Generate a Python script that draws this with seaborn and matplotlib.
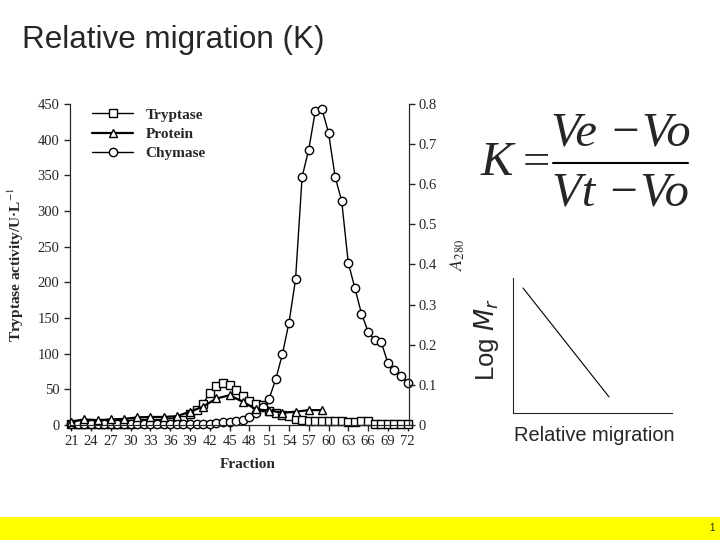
import matplotlib
matplotlib.use("Agg")
import matplotlib.pyplot as plt
import seaborn as sns
from matplotlib.patches import Rectangle
from matplotlib.lines import Line2D

# Fractions collected from the column
fractions = list(range(21, 73))
tryptase = [2, 2, 2, 2, 2, 2, 2, 2, 2, 2,
            3, 3, 3, 3, 3, 4, 5, 7, 16, 21,
            30, 45, 55, 59, 56, 49, 41, 33, 30, 28,
            20, 17, 14, 12, 9, 7, 6, 5, 5, 5,
            5, 5, 4, 4, 5, 5, 2, 2, 2, 2,
            2, 2]
chymase = [1, 1, 1, 1, 1, 1, 1, 1, 1, 1,
           1, 1, 1, 1, 1, 1, 1, 1, 1, 1,
           1.5, 2, 3, 4, 4.5, 5, 7, 11, 17, 25,
           37, 64, 99, 143, 204, 348, 386, 440, 443, 410,
           348, 314, 227, 192, 156, 131, 119, 116, 87, 77,
           69, 59]
# Protein (A280) measured on every second fraction
protein_fractions = list(range(21, 60, 2))
protein = [0.008, 0.014, 0.012, 0.014, 0.015, 0.019, 0.020, 0.020, 0.022, 0.033,
           0.046, 0.066, 0.074, 0.058, 0.039, 0.036, 0.031, 0.033, 0.037, 0.037]
tick_fractions = list(range(21, 73, 3))

# Sketch of log Mr vs relative migration
rel_migration = [0.063, 0.604]
log_mr = [0.926, 0.119]

sns.set_style("ticks")
plt.rcParams["font.family"] = ["Liberation Serif", "DejaVu Serif"]
plt.rcParams["mathtext.fontset"] = "stix"

fig = plt.figure(figsize=(7.2, 5.4), dpi=100)

# --- elution profile ---
ax = fig.add_axes([0.0972, 0.2130, 0.4708, 0.5944])
ax2 = ax.twinx()

sns.lineplot(x=fractions, y=tryptase, ax=ax, color="black", marker="s",
             markersize=6, markerfacecolor="white", markeredgecolor="black",
             markeredgewidth=1, linewidth=1, clip_on=False, legend=False)
sns.lineplot(x=fractions, y=chymase, ax=ax, color="black", marker="o",
             markersize=6, markerfacecolor="white", markeredgecolor="black",
             markeredgewidth=1, linewidth=1, clip_on=False, legend=False)
sns.lineplot(x=protein_fractions, y=protein, ax=ax2, color="black", marker="^",
             markersize=5.5, markerfacecolor="white", markeredgecolor="black",
             markeredgewidth=1, linewidth=1.6, clip_on=False, legend=False)

ax.set_xlim(20.8, 72.2)
ax.set_ylim(0, 450)
ax2.set_ylim(0, 0.8)
ax.set_xticks(tick_fractions)
ax.set_yticks(range(0, 451, 50))
ax2.set_yticks([0, 0.1, 0.2, 0.3, 0.4, 0.5, 0.6, 0.7, 0.8])
ax2.set_yticklabels(["0", "0.1", "0.2", "0.3", "0.4", "0.5", "0.6", "0.7", "0.8"])
for a in (ax, ax2):
    a.spines["top"].set_visible(False)
    a.tick_params(direction="out", length=4, width=1, labelsize=10.5)
ax2.tick_params(axis="y", pad=3)

ax.set_xlabel("Fraction", fontsize=11, fontweight="bold")
ax.xaxis.set_label_coords(0.525, -0.103)
ax.set_ylabel("Tryptase activity/U·L$^{-1}$", fontsize=11, fontweight="bold")
ax.yaxis.set_label_coords(-0.13, 0.5)
ax2.set_ylabel(r"$A_{280}$", fontsize=13, rotation=90)
ax2.yaxis.set_label_coords(1.118, 0.53)

handles = [ax.lines[0], ax2.lines[0], ax.lines[1]]
ax2.legend(handles, ["Tryptase", "Protein", "Chymase"], loc="upper left",
           bbox_to_anchor=(0.025, 1.03), frameon=False, handlelength=2.7,
           handletextpad=0.8, labelspacing=0.35,
           prop={"family": "Liberation Serif", "weight": "bold", "size": 11})

# --- slide text ---
fig.text(22 / 720, 1 - 40 / 540, "Relative migration (K)", fontsize=22.6,
         family="Liberation Sans", va="center")

# K = (Ve - Vo) / (Vt - Vo)
eq_font = dict(family="Liberation Serif", style="italic", fontsize=35,
               va="center", ha="center")
fig.text(497 / 720, 1 - 163 / 540, "K", **eq_font)
fig.text(536 / 720, 1 - 163 / 540, "=", family="Liberation Serif", fontsize=35,
         va="center", ha="center")
fig.text(621 / 720, 1 - 134 / 540, "Ve \u2212Vo", **eq_font)
fig.text(621 / 720, 1 - 194 / 540, "Vt \u2212Vo", **eq_font)
fig.add_artist(Line2D([553 / 720, 688 / 720], [1 - 163 / 540, 1 - 163 / 540],
                      transform=fig.transFigure, color="black", linewidth=1.5))

# --- log Mr sketch ---
ax3 = fig.add_axes([0.7125, 0.2352, 0.2208, 0.25])
sns.lineplot(x=rel_migration, y=log_mr, ax=ax3, color="black", linewidth=0.8)
ax3.set_xlim(0, 1)
ax3.set_ylim(0, 1)
ax3.set_xticks([])
ax3.set_yticks([])
ax3.spines["top"].set_visible(False)
ax3.spines["right"].set_visible(False)
ax3.set_xlabel("Relative migration", fontsize=14.4, family="Liberation Sans")
ax3.xaxis.set_label_coords(0.51, -0.096)
ax3.set_ylabel(r"Log $M_r$", fontsize=18.5, family="Liberation Sans",
               math_fontfamily="dejavusans")
ax3.yaxis.set_label_coords(-0.075, 0.54)

# --- footer band ---
fig.patches.append(Rectangle((0, 0), 1, 23 / 540, transform=fig.transFigure,
                             facecolor="#ffff00", edgecolor="none", zorder=0))
fig.text(712 / 720, 12 / 540, "1", fontsize=7, ha="center", va="center",
         family="Liberation Sans")

fig.savefig("out.png", dpi=100)
